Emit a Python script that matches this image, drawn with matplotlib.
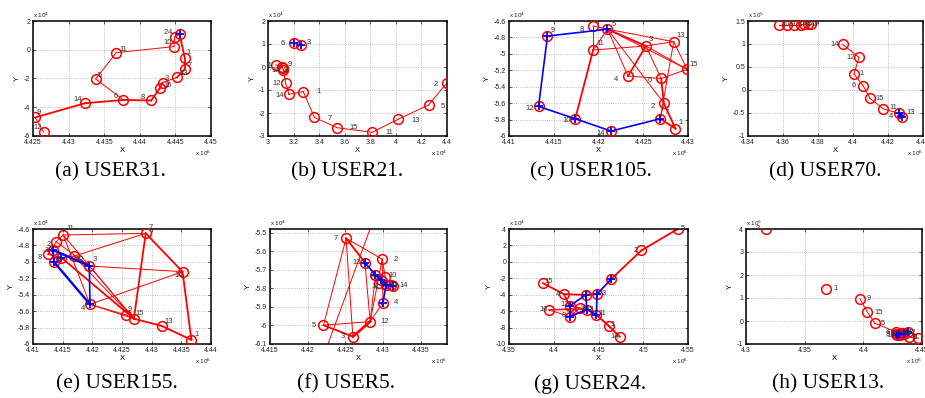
import numpy as np
import matplotlib.pyplot as plt
from matplotlib.ticker import FuncFormatter
from collections import Counter

# ---------------- data (x in 1e6 / 1e4 units, y in 1e4 / 1e5 units) ----------------
# (a) USER31
A_id = [1, 2, 3, 4, 5, 6, 7, 8, 9, 10, 11, 12, 13, 14, 15]
A_x = [4.4463, 4.4449, 4.4432, 4.4456, 4.4338, 4.4377, 4.4463, 4.4416, 4.4253, 4.4448, 4.4367, 4.4265, 4.4452, 4.4323, 4.4428]
A_y = [-0.55, 0.90, -2.28, 1.08, -2.03, -3.49, -1.36, -3.53, -4.71, 0.22, -0.20, -5.73, -1.93, -3.72, -2.68]
A_red = [(12, 9), (9, 14), (9, 14), (14, 6), (14, 6), (6, 8), (6, 8), (8, 15), (8, 15), (15, 3), (15, 3),
         (3, 13), (13, 7), (13, 7), (7, 1), (7, 1), (1, 4), (1, 4), (4, 2), (2, 10), (10, 11), (11, 5), (5, 6)]
A_blue_pts = [4]
A_blue = []

# (b) USER21
B_id = [1, 2, 3, 4, 5, 6, 7, 8, 9, 10, 11, 12, 13, 14, 15]
B_x = [3.276, 4.397, 3.26, 3.06, 4.256, 3.203, 3.363, 3.115, 3.11, 3.12, 3.814, 3.138, 4.019, 3.164, 3.54]
B_y = [-1.07, -0.71, 0.96, 0.09, -1.65, 1.03, -2.19, -0.05, 0.02, -0.12, -2.84, -0.71, -2.27, -1.19, -2.64]
B_red = [(2, 5), (5, 13), (13, 11), (11, 15), (15, 7), (7, 1), (1, 14), (14, 12), (12, 10), (10, 8), (8, 9), (9, 4)]
B_blue_pts = [6, 3]
B_blue = []

# (c) USER105
C_id = [1, 2, 3, 4, 5, 6, 7, 8, 9, 10, 11, 12, 13, 14, 15]
C_x = [4.4286, 4.4273, 4.4253, 4.4233, 4.4210, 4.4270, 4.4269, 4.4194, 4.4143, 4.4174, 4.4194, 4.4133, 4.4284, 4.4214, 4.4299]
C_y = [-5.91, -5.60, -4.904, -5.27, -4.70, -5.30, -5.79, -4.661, -4.783, -5.79, -4.953, -5.64, -4.852, -5.94, -5.188]
C_red = [(10, 11), (10, 11), (11, 8), (8, 5), (11, 3), (5, 3), (5, 3), (5, 13), (5, 15), (5, 2), (5, 4),
         (3, 4), (3, 4), (3, 6), (3, 13), (3, 15), (13, 15), (13, 7), (4, 6), (6, 15), (6, 2), (6, 2),
         (2, 7), (7, 1), (7, 1), (1, 2), (1, 2), (11, 5)]
C_blue_pts = [5, 9, 12, 10, 14, 7]
C_blue = [(5, 9), (9, 12), (12, 10), (10, 14), (14, 7)]

# (d) USER70
D_id = [1, 2, 3, 4, 5, 6, 7, 8, 9, 10, 11, 12, 13, 14, 15]
D_x = [4.4006, 4.3745, 4.3663, 4.4265, 4.3722, 4.4059, 4.3760, 4.3701, 4.3621, 4.3579, 4.4173, 4.4034, 4.4278, 4.3941, 4.4097]
D_y = [0.348, 1.43, 1.42, -0.51, 1.43, 0.087, 1.43, 1.42, 1.42, 1.42, -0.41, 0.71, -0.58, 0.993, -0.18]
D_red = [(14, 12), (12, 1), (1, 6), (6, 15), (15, 11), (11, 4), (4, 13),
         (10, 9), (9, 3), (3, 8), (8, 5), (5, 2), (2, 7)]
D_blue_pts = [4, 13]
D_blue = [(4, 13)]

# (e) USER155
E_id = [1, 2, 3, 4, 5, 6, 7, 8, 9, 10, 11, 12, 13, 14, 15]
E_x = [4.4367, 4.4139, 4.4195, 4.4196, 4.4135, 4.4148, 4.4290, 4.4125, 4.4257, 4.4134, 4.4151, 4.4169, 4.4317, 4.4352, 4.4270]
E_y = [-5.95, -4.755, -5.05, -5.517, -4.998, -4.95, -4.653, -4.909, -5.647, -4.856, -4.673, -4.93, -5.78, -5.12, -5.692]
E_red = [(7, 14), (7, 14), (14, 1), (14, 1), (7, 15), (7, 15), (15, 13), (15, 13), (13, 1), (13, 1), (15, 9),
         (11, 7), (12, 7), (3, 14), (4, 14), (6, 15), (6, 15), (3, 15), (12, 15), (4, 9), (4, 15), (11, 4),
         (2, 3), (8, 6), (6, 12), (12, 3), (11, 2), (2, 8), (11, 15)]
E_blue_pts = [10, 5, 3, 4, 6]
E_blue = [(10, 3), (10, 3), (3, 4), (5, 4), (5, 4), (10, 5)]

# (f) USER5
F_id = [1, 2, 3, 4, 5, 6, 7, 8, 9, 10, 11, 12, 13, 14, 15]
F_x = [4.4299, 4.4299, 4.4260, 4.4300, 4.4221, 4.4290, 4.4251, 4.4298, 4.4304, 4.4303, 4.4295, 4.4283, 4.4276, 4.4313, 4.4310]
F_y = [-5.30, -5.643, -6.06, -5.877, -5.999, -5.729, -5.530, -5.757, -5.784, -5.739, -5.770, -5.979, -5.661, -5.789, -5.780]
F_red = [(7, 13), (7, 13), (7, 2), (7, 6), (7, 5), (7, 3), (5, 3), (5, 3), (3, 12), (3, 12), (3, 12),
         (12, 4), (12, 6), (2, 4), (2, 12), (13, 12), (10, 14), (6, 10), (2, 10), (5, 12)]
F_trail_x = [4.4299, 4.4209]
F_trail_y = [-5.30, -6.30]
F_blue_pts = [13, 6, 8, 9, 14, 4]
F_blue = [(13, 6), (6, 8), (8, 9), (9, 14), (9, 4), (15, 14)]

# (g) USER24
G_id = [1, 2, 3, 4, 5, 6, 7, 8, 9, 10, 11, 12, 13, 14, 15]
G_x = [4.4617, 4.498, 4.4483, 4.4115, 4.5389, 4.4357, 4.4644, 4.4178, 4.429, 4.3947, 4.4477, 4.4178, 4.437, 4.4737, 4.388]
G_y = [-7.8, 1.39, -3.94, -3.94, 4.03, -4.02, -2.07, -6.67, -5.6, -5.85, -6.46, -5.37, -5.8, -9.11, -2.6]
G_red = [(5, 2), (5, 2), (2, 7), (2, 7), (7, 3), (15, 4), (15, 4), (4, 6), (4, 6), (6, 3), (6, 3),
         (10, 9), (10, 8), (10, 13), (12, 9), (12, 4), (8, 9), (9, 13), (13, 11), (11, 1), (11, 1),
         (1, 14), (1, 14), (11, 14), (8, 13), (4, 12)]
G_blue_pts = [7, 3, 11, 13, 6, 12, 8]
G_blue = [(7, 3), (3, 11), (11, 13), (13, 6), (6, 12), (12, 8), (8, 13)]

# (h) USER13
H_id = [1, 2, 3, 4, 5, 6, 7, 8, 9, 10, 11, 12, 13, 14, 15]
H_x = [4.3686, 4.3171, 4.439, 4.428, 4.4099, 4.447, 4.430, 4.4275, 4.3971, 4.431, 4.433, 4.4377, 4.429, 4.435, 4.4034]
H_y = [1.41, 4.0, -0.71, -0.48, -0.10, -0.75, -0.55, -0.58, 0.97, -0.60, -0.50, -0.49, -0.62, -0.55, 0.39]
H_red = [(9, 15), (15, 5), (5, 4), (4, 7), (7, 10), (10, 11), (11, 12), (12, 3), (3, 6), (8, 13), (13, 14)]
H_blue_pts = [7, 13, 12, 14]
H_blue = [(7, 12)]

CAPTIONS = ['(a) USER31.', '(b) USER21.', '(c) USER105.', '(d) USER70.',
            '(e) USER155.', '(f) USER5.', '(g) USER24.', '(h) USER13.']

# ---------------- layout (pixels) ----------------
W, H = 925, 398
# left, top, width, height
BOXES = [(33, 21, 178, 115), (268, 21, 179, 115), (509, 21, 179, 115), (748, 21, 175, 115),
         (33, 229, 178, 115), (270, 229, 177, 115), (509, 229, 179, 115), (746, 229, 176, 115)]
CAP_POS = [(110, 172), (347, 172), (591, 172), (825, 172),
           (117, 384), (346, 384), (590, 384), (828, 384)]
LIMS = [((4.425, 4.45, 0.005), (-6, 2, 2)),
        ((3.0, 4.4, 0.2), (-3, 2, 1)),
        ((4.41, 4.43, 0.005), (-6, -4.6, 0.2)),
        ((4.34, 4.44, 0.02), (-1, 1.5, 0.5)),
        ((4.41, 4.44, 0.005), (-6, -4.6, 0.2)),
        ((4.415, 4.4385, 0.005), (-6.1, -5.48, 0.1)),
        ((4.35, 4.55, 0.05), (-10, 4, 2)),
        ((4.3, 4.45, 0.05), (-1, 4, 1))]
EXPS = [('4', '6'), ('4', '4'), ('4', '6'), ('5', '6'),
        ('4', '6'), ('4', '6'), ('4', '6'), ('5', '6')]

# label offsets in pixels (dx, dy up); default to the upper right
OFFS = [
    {1: (4, 5), 2: (-9, 4), 4: (-10, 2), 7: (5, 4), 13: (7, 4), 3: (4, 4), 15: (8, 3), 8: (-8, 3),
     6: (-8, 3), 14: (-7, 4), 9: (4, 5), 12: (-6, 5), 11: (7, 3), 5: (4, 3), 10: (-6, 4)},
    {6: (-11, 0), 3: (8, 2), 4: (-7, -1), 10: (-8, -1), 9: (8, 2), 8: (3, -2), 12: (-9, 0), 14: (-9, -1),
     1: (15, 0), 7: (15, -1), 15: (17, 0), 11: (17, 0), 13: (17, -1), 5: (14, -2), 2: (-11, -1)},
    {9: (5, 6), 8: (-11, -3), 5: (6, 5), 11: (7, 6), 3: (5, 6), 13: (7, 6), 15: (7, 5), 4: (-12, -3),
     6: (-11, -2), 2: (-11, -3), 7: (6, 6), 1: (5, 6), 14: (-10, -2), 10: (-9, -2), 12: (-9, -2)},
    {14: (-8, 0), 12: (-8, 0), 1: (8, 0), 6: (-10, 0), 15: (10, 0), 11: (10, 1), 4: (-8, -3), 13: (9, 4),
     10: (6, 0), 9: (6, 0), 3: (6, 0), 8: (6, 0), 5: (6, 0), 2: (6, 0), 7: (6, 0)},
    {11: (7, 6), 2: (-7, -3), 8: (-8, -3), 3: (5, 6), 4: (-7, -4), 7: (5, 6), 14: (-4, -4), 9: (4, 6),
     15: (6, 5), 13: (7, 4), 1: (5, 5), 10: (-5, 0), 5: (5, 2), 6: (-3, -2), 12: (6, -3)},
    {7: (-10, 0), 2: (13, 0), 13: (-8, 0), 10: (7, 2), 14: (11, 1), 4: (13, 0), 12: (15, 0), 5: (-10, 0),
     3: (-10, 0), 6: (-3, -3), 8: (2, -3), 9: (-2, -2), 11: (-4, -4), 15: (3, 0)},
    {5: (5, 0), 2: (-6, 0), 15: (6, 2), 4: (-6, 0), 3: (7, 1), 12: (-5, 1), 10: (-5, 0), 8: (-6, 1),
     11: (6, 1), 1: (4, 1), 14: (-5, 0), 7: (3, 0), 9: (3, 0), 13: (3, 0), 6: (2, 0)},
    {2: (-8, 0), 1: (9, 0), 9: (9, 0), 15: (11, 0), 5: (8, 0), 4: (-8, 0), 8: (-8, 0), 3: (6, 0),
     6: (-4, 1), 7: (-6, 0), 10: (-5, 0), 11: (3, 0), 12: (4, 0), 13: (-7, 0), 14: (3, 0)},
]

PANELS = [
    (A_id, A_x, A_y, A_red, A_blue_pts, A_blue),
    (B_id, B_x, B_y, B_red, B_blue_pts, B_blue),
    (C_id, C_x, C_y, C_red, C_blue_pts, C_blue),
    (D_id, D_x, D_y, D_red, D_blue_pts, D_blue),
    (E_id, E_x, E_y, E_red, E_blue_pts, E_blue),
    (F_id, F_x, F_y, F_red, F_blue_pts, F_blue),
    (G_id, G_x, G_y, G_red, G_blue_pts, G_blue),
    (H_id, H_x, H_y, H_red, H_blue_pts, H_blue),
]

plt.rcParams['font.family'] = ['Liberation Sans', 'DejaVu Sans']
fmt = FuncFormatter(lambda v, p: '%g' % round(v, 4))


def draw_panel(ax, ids, xs, ys, red, blue_pts, blue, offs):
    pos = dict(zip(ids, zip(xs, ys)))
    cnt = Counter(tuple(sorted(e)) for e in red)
    for (a, b), n in cnt.items():
        ax.plot([pos[a][0], pos[b][0]], [pos[a][1], pos[b][1]], color='r',
                lw=0.7 + 0.6 * (n - 1), zorder=2)
    ax.plot(xs, ys, 'o', mfc='none', mec='r', ms=7, mew=1.1, zorder=3)
    bcnt = Counter(tuple(sorted(e)) for e in blue)
    for (a, b), n in bcnt.items():
        ax.plot([pos[a][0], pos[b][0]], [pos[a][1], pos[b][1]], color='b',
                lw=1.2 + 0.5 * (n - 1), zorder=4)
    if blue_pts:
        ax.plot([pos[i][0] for i in blue_pts], [pos[i][1] for i in blue_pts], '+',
                color='b', ms=5.5, mew=1.3, zorder=5)
    for i in ids:
        dx, dy = offs.get(i, (6, 3))
        ax.annotate(str(i), pos[i], xytext=(dx, dy), textcoords='offset pixels',
                    ha='center', va='center', fontsize=5.5, color='#333333', zorder=6)


fig = plt.figure(figsize=(W / 100, H / 100), dpi=100)
for k, (box, lims, exps, data) in enumerate(zip(BOXES, LIMS, EXPS, PANELS)):
    l, t, w, h = box
    ax = fig.add_axes([l / W, 1 - (t + h) / H, w / W, h / H])
    draw_panel(ax, *data, OFFS[k])
    if k == 5:
        ax.plot(F_trail_x, F_trail_y, color='r', lw=0.7, zorder=2)
    (x0, x1, xs), (y0, y1, ys) = lims
    ax.set_xticks(np.round(np.arange(x0, x1 + xs / 2, xs), 4))
    ax.set_yticks(np.round(np.arange(y0, y1 + ys / 2, ys), 4))
    ax.set_xlim(x0, x1)
    ax.set_ylim(y0, y1)
    ax.xaxis.set_major_formatter(fmt)
    ax.yaxis.set_major_formatter(fmt)
    ax.tick_params(direction='in', length=2, width=0.5, labelsize=5, pad=2,
                   top=True, right=True, colors='#222222')
    ax.grid(True, ls=':', lw=0.6, color='#aaaaaa')
    for s in ax.spines.values():
        s.set_linewidth(1.1)
    ax.set_xlabel('X', fontsize=5.5, labelpad=1)
    ax.set_ylabel('Y', fontsize=5.5, labelpad=2)
    ax.text(0, 1.01, 'x 10$^{%s}$' % exps[0], transform=ax.transAxes, ha='left', va='bottom',
            fontsize=4.5, color='#222222')
    ax.text(1.0, -0.15, 'x 10$^{%s}$' % exps[1], transform=ax.transAxes, ha='right', va='center',
            fontsize=4.5, color='#222222')
    cx, cy = CAP_POS[k]
    fig.text(cx / W, 1 - cy / H, CAPTIONS[k], ha='center', va='center', fontsize=15.5,
             family='Liberation Serif')

fig.savefig('out.png', dpi=100)
